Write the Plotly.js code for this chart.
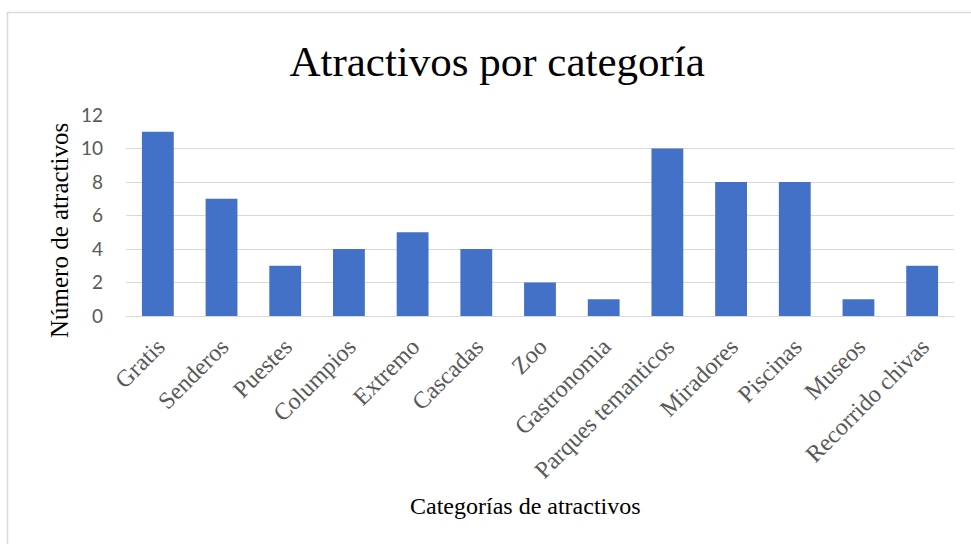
<!DOCTYPE html>
<html>
<head>
<meta charset="utf-8">
<script src="https://cdn.plot.ly/plotly-3.0.1.min.js"></script>
<style>html,body{margin:0;padding:0;background:#fff;}#chart{width:971px;height:544px;}</style>
</head>
<body>
<div id="chart"></div>
<script>
const categories = ["Gratis","Senderos","Puestes","Columpios","Extremo","Cascadas","Zoo","Gastronomia","Parques temanticos","Miradores","Piscinas","Museos","Recorrido chivas"];
const values = [11,7,3,4,5,4,2,1,10,8,8,1,3];
const yTicks = [0,2,4,6,8,10,12];

const serif = "'Liberation Serif', 'Times New Roman', serif";
const sans = "Lato, 'Liberation Sans', sans-serif";

const trace = {
  type: 'bar',
  x: categories,
  y: values,
  width: 0.5,
  marker: {color: '#4471c8', line: {width: 0}},
  hoverinfo: 'x+y'
};

const layout = {
  width: 971, height: 544,
  margin: {l: 126, r: 17, t: 115, b: 228, pad: 0},
  paper_bgcolor: '#ffffff',
  plot_bgcolor: '#ffffff',
  showlegend: false,
  title: {
    text: 'Atractivos por categoría',
    font: {family: serif, size: 43, color: '#000000'},
    xref: 'container', x: 0.512, xanchor: 'center',
    yref: 'container', y: 1 - 61/544, yanchor: 'middle'
  },
  xaxis: {
    type: 'category',
    tickangle: -45,
    tickfont: {family: serif, size: 24, color: '#595959'},
    showgrid: false,
    showline: true, linecolor: '#d9d9d9', linewidth: 1,
    ticks: '', ticklabelstandoff: 6,
    fixedrange: true
  },
  yaxis: {
    range: [0, 12],
    tickvals: yTicks,
    ticktext: yTicks.map(String),
    tickfont: {family: sans, size: 19, color: '#595959'},
    showgrid: true, gridcolor: '#d9d9d9', gridwidth: 1,
    zeroline: true, zerolinecolor: '#d9d9d9',
    showline: false, ticks: '',
    ticklabelstandoff: 22,
    fixedrange: true
  },
  annotations: [
    {
      text: 'Número de atractivos',
      xref: 'paper', yref: 'paper',
      x: (59 - 126) / (971 - 126 - 17), xanchor: 'center',
      y: (316 - 231) / (316 - 115), yanchor: 'middle',
      textangle: -90, showarrow: false,
      font: {family: serif, size: 25, color: '#000000'}
    },
    {
      text: 'Categorías de atractivos',
      xref: 'paper', yref: 'paper',
      x: (525 - 126) / (971 - 126 - 17), xanchor: 'center',
      y: (316 - 506) / (316 - 115), yanchor: 'middle',
      showarrow: false,
      font: {family: serif, size: 24, color: '#000000'}
    }
  ],
  shapes: [
    {
      type: 'rect', xref: 'paper', yref: 'paper',
      x0: (7.5 - 126) / (971 - 126 - 17), x1: (990 - 126) / (971 - 126 - 17),
      y0: (316 - 560) / (316 - 115), y1: (316 - 12.5) / (316 - 115),
      line: {color: '#d9d9d9', width: 1.5}, fillcolor: 'rgba(0,0,0,0)', layer: 'below'
    }
  ]
};

Plotly.newPlot('chart', [trace], layout, {displayModeBar: false, staticPlot: true});
</script>
</body>
</html>
